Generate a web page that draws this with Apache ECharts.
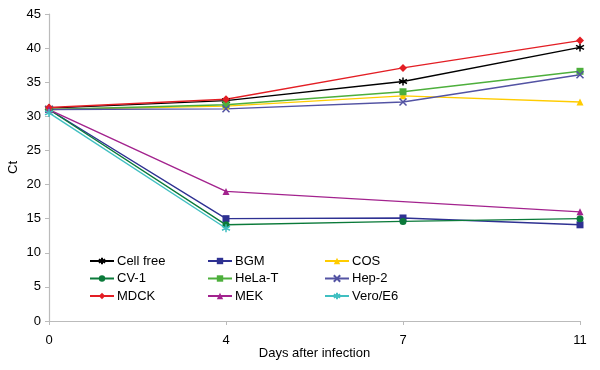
<!DOCTYPE html>
<html><head><meta charset="utf-8">
<script src="https://cdn.jsdelivr.net/npm/echarts@6/dist/echarts.min.js"></script>
<style>html,body{margin:0;padding:0;background:#fff}#c{width:600px;height:370px}</style>
</head><body><div id="c"></div>
<script>
const days = ['0', '4', '7', '11'];
const cellFree = [31.2, 32.3, 35.1, 40.1];
const bgm = [31.0, 15.0, 15.1, 14.1];
const cos = [31.0, 31.5, 33.0, 32.1];
const cv1 = [31.0, 14.1, 14.6, 15.0];
const helaT = [31.0, 31.7, 33.6, 36.6];
const hep2 = [31.0, 31.1, 32.1, 36.1];
const mdck = [31.3, 32.5, 37.1, 41.1];
const mek = [31.0, 19.0, null, 16.0];
const vero = [30.5, 13.6, null, null];
const yTicks = [0, 5, 10, 15, 20, 25, 30, 35, 40, 45];

const STAR = 'path://M0,-5L0,5M-4.3,-2.5L4.3,2.5M-4.3,2.5L4.3,-2.5';
const CROSS = 'path://M-4,-4L4,4M-4,4L4,-4';

function mk(name, data, color, symbol, size, stroke) {
  return {
    name, type: 'line', data, connectNulls: true,
    symbol, symbolSize: size,
    lineStyle: { color, width: 1.4 },
    itemStyle: stroke ? { color, borderColor: color, borderWidth: 1.5 } : { color, borderWidth: 0 },
    emphasis: { disabled: true }
  };
}

const series = [
  mk('Cell free', cellFree, '#000000', STAR, 8, true),
  mk('BGM', bgm, '#2E3192', 'rect', 7),
  mk('COS', cos, '#FFCC00', 'triangle', 7),
  mk('CV-1', cv1, '#0B7A3A', 'circle', 7),
  mk('HeLa-T', helaT, '#4DAF3C', 'rect', 7),
  mk('Hep-2', hep2, '#5353A3', CROSS, 7, true),
  mk('MDCK', mdck, '#E31E24', 'diamond', 8),
  mk('MEK', mek, '#A3238E', 'triangle', 7),
  mk('Vero/E6', vero, '#40BFC1', STAR, 8, true)
];

const legendBase = {
  orient: 'vertical', top: 249, itemGap: 3.5, itemWidth: 24, itemHeight: 8,
  textStyle: { fontSize: 13, color: '#000', fontFamily: 'Liberation Sans, Arial', padding: [0, 0, 0, -2], lineHeight: 14 }
};

const chart = echarts.init(document.getElementById('c'), null, { renderer: 'canvas' });
chart.setOption({
  animation: false,
  textStyle: { fontFamily: 'Liberation Sans, Arial' },
  grid: { left: 49, right: 20, top: 14, bottom: 49, containLabel: false, outerBoundsMode: 'none' },
  legend: [
    Object.assign({ left: 84, data: ['Cell free', 'CV-1', 'MDCK'] }, legendBase),
    Object.assign({ left: 202, data: ['BGM', 'HeLa-T', 'MEK'] }, legendBase),
    Object.assign({ left: 319, data: ['COS', 'Hep-2', 'Vero/E6'] }, legendBase)
  ],
  xAxis: {
    type: 'category', data: days, boundaryGap: false,
    name: 'Days after infection', nameLocation: 'middle', nameGap: 26, nameMoveOverlap: false,
    nameTextStyle: { fontSize: 13, color: '#000' },
    axisLine: { lineStyle: { color: '#bbbbbb', width: 1.2 } },
    axisTick: { show: true, length: 4, lineStyle: { color: '#bbbbbb' } },
    axisLabel: { fontSize: 13, color: '#000', margin: 13 },
    splitLine: { show: false }
  },
  yAxis: {
    type: 'value', min: yTicks[0], max: yTicks[yTicks.length - 1], interval: 5,
    name: 'Ct', nameLocation: 'middle', nameGap: 29, nameRotate: 90, nameMoveOverlap: false,
    nameTextStyle: { fontSize: 13, color: '#000' },
    axisLine: { show: true, lineStyle: { color: '#bbbbbb', width: 1.2 } },
    axisTick: { show: true, length: 4, lineStyle: { color: '#bbbbbb' } },
    axisLabel: { fontSize: 13, color: '#000', margin: 8 },
    splitLine: { show: false }
  },
  series
});
</script></body></html>
